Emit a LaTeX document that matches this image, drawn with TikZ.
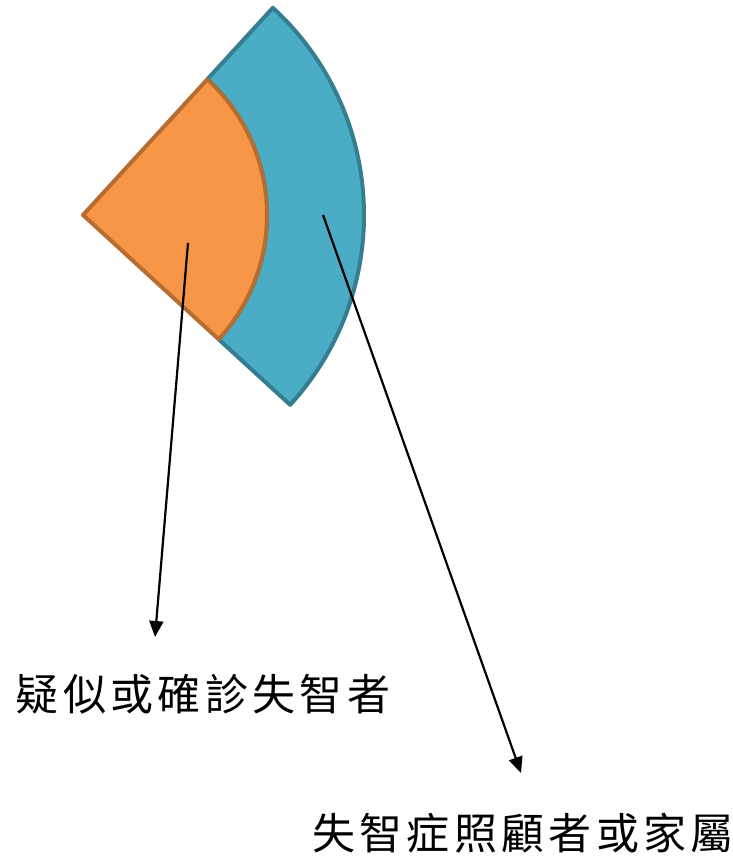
\documentclass[tikz,border=0pt]{standalone}
\usepackage{xcolor}
\usepackage{fontspec}
\newfontfamily\cjkfont[LetterSpace=10]{Noto Sans CJK TC}
\usetikzlibrary{arrows.meta}
\definecolor{sectorOrange}{HTML}{F79646}
\definecolor{sectorOrangeEdge}{HTML}{B66D31}
\definecolor{sectorBlue}{HTML}{4BACC6}
\definecolor{sectorBlueEdge}{HTML}{357D91}

\begin{document}
\begin{tikzpicture}[x=1pt, y=1pt,
    pointer/.style={-{Triangle[length=16pt, width=14pt]}, line width=2.2pt},
    caption/.style={font=\cjkfont\fontsize{43}{50}\selectfont, inner sep=0pt}]
    \useasboundingbox (0,0) rectangle (732,856);
    \coordinate (apex) at (83,641);
    % outer ring
    \draw[line width=4pt, line join=round, draw=sectorBlueEdge, fill=sectorBlue]
        ([shift={(47.5:184pt)}]apex) -- ([shift={(47.5:281pt)}]apex)
        arc[start angle=47.5, end angle=-42.5, radius=281pt]
        -- ([shift={(-42.5:184pt)}]apex)
        arc[start angle=-42.5, end angle=47.5, radius=184pt] -- cycle;
    % inner sector
    \draw[line width=4pt, line join=round, draw=sectorOrangeEdge, fill=sectorOrange]
        (apex) -- ([shift={(47.5:184pt)}]apex)
        arc[start angle=47.5, end angle=-42.5, radius=184pt] -- cycle;
    \coordinate (inner) at (188,613);
    \coordinate (outer) at (323,641);
    \coordinate (innertip) at (155,219);
    \coordinate (outertip) at (521,83);
    \node[caption] (patient) at (203,162) {疑似或確診失智者};
    \node[caption] (carer) at (523,23) {失智症照顧者或家屬};
    \draw[pointer] (inner) -- (innertip);
    \draw[pointer] (outer) -- (outertip);
\end{tikzpicture}
\end{document}
